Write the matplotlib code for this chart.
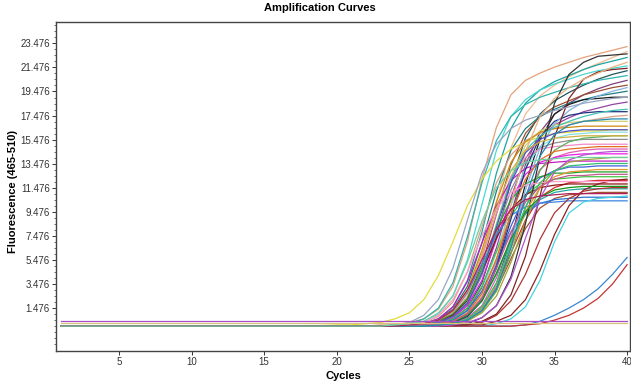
import numpy as np
import matplotlib
matplotlib.use("Agg")
import matplotlib.pyplot as plt
from matplotlib.ticker import FixedLocator

plt.rcParams['font.family'] = ['Liberation Sans Narrow', 'Liberation Sans', 'DejaVu Sans']

cycles = np.arange(1, 41)
baseline = 0.0

# fluorescence, cycles 22..40 (earlier cycles sit on the baseline)
w01 = [0.0,0.1,0.1,0.3,0.6,1.4,3.3,7.0,12.2,16.5,19.2,20.4,21.0,21.5,21.9,22.3,22.6,22.9,23.2]
w02 = [0.0,0.0,0.0,0.1,0.2,0.4,1.0,2.5,5.6,10.3,14.8,17.6,19.1,20.0,20.7,21.3,21.8,22.3,22.8]
w03 = [0.0,0.0,0.0,0.1,0.2,0.6,1.6,3.8,7.8,12.7,16.4,18.5,19.6,20.3,20.8,21.3,21.7,22.0,22.3]
w04 = [0.0,0.0,0.1,0.1,0.4,1.0,2.5,5.5,10.1,14.6,17.4,18.8,19.6,20.1,20.5,20.9,21.2,21.4,21.6]
w05 = [0.0,0.0,0.0,0.0,0.1,0.2,0.6,1.5,3.6,7.4,12.0,15.6,17.6,18.7,19.4,20.0,20.5,20.9,21.2]
w06 = [0.0,0.0,0.1,0.2,0.6,1.5,3.6,7.4,11.9,15.4,17.4,18.4,19.0,19.4,19.8,20.1,20.4,20.6,20.8]
w07 = [0.0,0.0,0.0,0.0,0.1,0.1,0.4,1.0,2.3,5.1,9.3,13.4,16.1,17.6,18.5,19.2,19.7,20.1,20.4]
w08 = [0.0,0.0,0.0,0.1,0.1,0.4,0.9,2.3,5.1,9.3,13.4,16.0,17.4,18.2,18.7,19.2,19.5,19.8,20.0]
w09 = [0.0,0.0,0.0,0.1,0.2,0.6,1.4,3.3,6.9,11.2,14.6,16.4,17.4,18.0,18.5,18.8,19.1,19.3,19.5]
w10 = [0.0,0.0,0.0,0.0,0.0,0.1,0.2,0.6,1.4,3.5,7.2,11.8,15.5,17.6,18.4,18.8,18.9,19.0,19.0]
w11 = [0.0,0.0,0.0,0.0,0.1,0.2,0.5,1.3,3.2,6.5,10.7,13.9,15.7,16.7,17.3,17.8,18.1,18.4,18.6]
# the early yellow well, cycles 18..40
w12 = [0.05,0.05,0.1,0.1,0.2,0.3,0.6,1.1,2.2,4.2,7.0,10.0,12.2,13.7,14.7,15.3,15.7,16.0,16.1,16.2,16.2,16.3,16.3]
w13 = [0.0,0.0,0.0,0.1,0.3,0.8,2.0,4.5,8.3,11.9,14.2,15.4,16.0,16.4,16.7,17.0,17.2,17.4,17.5]
w14 = [0.0,0.0,0.0,0.0,0.1,0.3,0.8,2.0,4.6,8.5,12.4,15.0,16.2,16.7,16.9,17.0,17.0,17.0,17.0]
w15 = [0.0,0.0,0.0,0.1,0.2,0.5,1.3,3.0,6.3,10.3,13.6,15.3,16.1,16.4,16.5,16.6,16.6,16.6,16.6]
w16 = [0.0,0.0,0.0,0.0,0.1,0.2,0.5,1.2,2.9,6.1,10.0,13.2,14.9,15.6,15.9,16.0,16.1,16.1,16.1]
w17 = [0.0,0.0,0.0,0.0,0.1,0.3,0.7,1.8,4.2,7.8,11.3,13.7,14.8,15.2,15.4,15.5,15.5,15.5,15.5]
w18 = [0.0,0.0,0.0,0.1,0.2,0.4,1.1,2.7,5.7,9.4,12.4,14.0,14.7,14.9,15.0,15.1,15.1,15.1,15.1]
w19 = [0.0,0.0,0.0,0.0,0.0,0.1,0.3,0.7,1.7,4.0,7.4,10.7,13.0,14.0,14.4,14.6,14.7,14.7,14.7]
w20 = [0.0,0.0,0.0,0.0,0.1,0.3,0.7,1.7,3.8,7.2,10.5,12.6,13.6,14.0,14.2,14.3,14.3,14.3,14.3]
w21 = [0.0,0.0,0.0,0.1,0.2,0.6,1.6,3.7,6.9,10.0,12.1,13.1,13.5,13.6,13.7,13.7,13.7,13.7,13.7]
w22 = [0.0,0.0,0.0,0.0,0.1,0.1,0.4,1.0,2.4,5.0,8.3,10.9,12.3,12.9,13.2,13.2,13.3,13.3,13.3]
w23 = [0.0,0.0,0.0,0.1,0.1,0.4,1.0,2.3,4.8,8.0,10.5,11.8,12.4,12.7,12.7,12.8,12.8,12.8,12.8]
w24 = [0.0,0.0,0.0,0.0,0.1,0.2,0.6,1.5,3.3,6.2,9.1,10.9,11.8,12.2,12.3,12.4,12.4,12.4,12.4]
w25 = [0.0,0.0,0.0,0.0,0.0,0.1,0.2,0.6,1.4,3.3,6.1,8.8,10.7,11.5,11.9,12.0,12.1,12.1,12.1]
w26 = [0.0,0.0,0.0,0.0,0.1,0.3,0.9,2.1,4.5,7.3,9.7,10.9,11.5,11.7,11.8,11.8,11.8,11.8,11.8]
w27 = [0.0,0.0,0.0,0.0,0.0,0.1,0.3,0.9,2.1,4.3,7.1,9.3,10.5,11.1,11.3,11.4,11.4,11.4,11.4]
w28 = [0.0,0.0,0.0,0.0,0.0,0.1,0.2,0.5,1.3,3.0,5.6,8.1,9.8,10.6,10.9,11.0,11.1,11.1,11.1]
w29 = [0.0,0.0,0.0,0.0,0.1,0.2,0.5,1.3,2.9,5.4,7.8,9.4,10.2,10.5,10.6,10.7,10.7,10.7,10.7]
w30 = [0.0,0.0,0.0,0.1,0.2,0.5,1.2,2.8,5.2,7.6,9.2,9.9,10.2,10.3,10.4,10.4,10.4,10.4,10.4]
w31 = [0.0,0.0,0.0,0.0,0.0,0.0,0.0,0.0,0.0,0.2,0.6,1.6,3.8,7.0,9.4,10.3,10.6,10.7,10.8]
w32 = [0.0,0.0,0.0,0.0,0.0,0.0,0.0,0.1,0.1,0.4,0.9,2.2,4.6,7.6,10.0,11.3,11.8,12.1,12.2]
w33 = [0.0,0.0,0.0,0.0,0.0,0.0,0.0,0.1,0.3,0.9,2.1,4.3,7.2,9.4,10.6,11.2,11.4,11.5,11.5]
w34 = [0.0,0.0,0.0,0.0,0.0,0.0,0.0,0.0,0.0,0.0,0.0,0.1,0.4,0.9,1.5,2.2,3.1,4.3,5.7]
w35 = [0.0,0.0,0.0,0.0,0.0,0.0,0.0,0.0,0.0,0.0,0.0,0.1,0.2,0.5,0.9,1.5,2.3,3.5,5.1]
w36 = [0.0,0.0,0.0,0.0,0.0,0.1,0.2,0.5,1.2,2.9,6.0,9.8,12.9,14.6,15.3,15.6,15.7,15.8,15.8]
w37 = [0.0,0.0,0.0,0.0,0.0,0.1,0.2,0.4,1.1,2.5,5.3,8.7,11.5,12.9,13.6,13.8,13.9,14.0,14.0]
w38 = [0.0,0.0,0.0,0.0,0.0,0.1,0.3,0.8,2.1,4.8,8.9,13.0,15.7,17.0,17.5,17.7,17.8,17.8,17.8]
w39 = [0.0,0.0,0.0,0.0,0.0,0.1,0.2,0.6,1.4,3.4,7.0,11.3,14.8,16.8,17.9,18.6,19.1,19.5,19.8]
w40 = [0.0,0.0,0.0,0.0,0.0,0.0,0.1,0.2,0.7,1.7,4.1,8.5,14.1,18.5,20.9,21.9,22.4,22.5,22.6]
w41 = [0.0,0.0,0.0,0.0,0.0,0.0,0.1,0.1,0.4,1.0,2.6,5.8,10.8,15.7,18.9,20.5,21.1,21.3,21.4]
w42 = [0.0,0.0,0.1,0.3,0.9,2.2,4.8,8.8,12.7,15.1,16.4,17.1,17.5,17.9,18.2,18.5,18.7,18.9,19.0]
w43 = [0.0,0.0,0.0,0.0,0.1,0.3,0.8,2.0,4.5,8.4,12.2,14.6,15.8,16.5,17.0,17.4,17.7,17.9,18.0]
w44 = [0.0,0.0,0.0,0.0,0.0,0.1,0.2,0.6,1.5,3.5,6.5,9.5,11.5,12.4,12.8,12.9,13.0,13.0,13.0]
w45 = [0.0,0.0,0.0,0.1,0.3,0.9,2.2,4.5,7.5,9.8,11.1,11.7,11.9,12.0,12.0,12.0,12.0,12.0,12.0]
w46 = [0.0,0.0,0.0,0.0,0.1,0.1,0.4,1.0,2.5,5.5,10.1,14.5,17.4,18.9,19.8,20.5,21.0,21.5,21.9]
w47 = [0.0,0.0,0.0,0.0,0.0,0.1,0.3,0.9,2.1,4.4,7.2,9.5,10.7,11.3,11.5,11.6,11.6,11.6,11.6]
w48 = [0.0,0.0,0.0,0.0,0.0,0.0,0.1,0.3,0.7,1.7,3.9,7.3,10.6,12.8,13.8,14.2,14.4,14.5,14.5]
w49 = [0.0,0.0,0.0,0.0,0.1,0.2,0.4,1.1,2.7,5.6,9.3,12.2,13.8,14.5,14.7,14.8,14.9,14.9,14.9]
w50 = [0.0,0.0,0.0,0.0,0.1,0.3,0.8,1.9,4.4,8.2,11.9,14.4,15.5,16.0,16.2,16.3,16.3,16.3,16.3]
w51 = [0.0,0.0,0.0,0.0,0.0,0.1,0.2,0.6,1.6,3.6,6.8,9.9,11.9,12.9,13.3,13.4,13.5,13.5,13.5]
w52 = [0.0,0.0,0.0,0.0,0.1,0.1,0.4,1.0,2.3,4.8,7.8,10.3,11.6,12.2,12.5,12.5,12.6,12.6,12.6]
w53 = [0.0,0.0,0.0,0.1,0.2,0.5,1.2,2.9,6.0,9.8,12.9,14.6,15.3,15.6,15.7,15.8,15.8,15.8,15.8]
w54 = [0.0,0.0,0.0,0.0,0.0,0.1,0.2,0.5,1.3,3.1,6.5,10.7,14.1,15.9,16.7,17.0,17.1,17.2,17.2]
w55 = [0.0,0.0,0.0,0.1,0.2,0.5,1.3,3.0,5.5,8.0,9.7,10.5,10.8,10.9,11.0,11.0,11.0,11.0,11.0]
w56 = [0.0,0.0,0.1,0.2,0.4,1.1,2.5,5.3,8.7,11.5,12.9,13.6,13.8,13.9,14.0,14.0,14.0,14.0,14.0]

wells = [w01, w02, w03, w04, w05, w06, w07, w08, w09, w10, w11, w12, w13, w14, w15, w16,
         w17, w18, w19, w20, w21, w22, w23, w24, w25, w26, w27, w28, w29, w30, w31, w32,
         w33, w34, w35, w36, w37, w38, w39, w40, w41, w42, w43, w44, w45, w46, w47, w48,
         w49, w50, w51, w52, w53, w54, w55, w56]
well_colors = ['#e3a27a', '#f0bc96', '#1fa3a0', '#48d8d0', '#24565a', '#2fb5b0', '#7e3f7e', '#9c5030',
               '#1e7f80', '#1a1a1a', '#9444a4', '#e4dc3c', '#d9a184', '#cfcf72', '#cf8a10', '#86e2e0',
               '#8e8e8e', '#f08ac4', '#e060b0', '#e81ee8', '#c21ec2', '#4460dc', '#22a22a', '#44c444',
               '#d42a2a', '#8c1414', '#26a6a2', '#a05232', '#2472d4', '#3a86e0', '#44d2e2', '#8e2222',
               '#b03434', '#3a86d0', '#c43434', '#5cb05c', '#a2a23e', '#223480', '#84b2e2', '#333333',
               '#7e2424', '#98a6c4', '#44c2b2', '#e2962e', '#ff9ccc', '#e8b282', '#149414', '#b254d2',
               '#e07020', '#5050c0', '#30c070', '#c05a90', '#d0b040', '#208ab0', '#b02060', '#70d0a0']

# negative controls that never amplify
flat_levels = [0.45, 0.3]
flat_colors = ['#a84cc8', '#d8c47a']

fig = plt.figure(figsize=(6.31, 3.83), dpi=100)
ax = fig.add_axes([56/631, 32.3/383, 574/631, 328.4/383])

for vals, col in zip(wells, well_colors):
    y = np.concatenate([np.full(40 - len(vals), baseline), vals])
    ax.plot(cycles, y, color=col, lw=0.9)
for lev, col in zip(flat_levels, flat_colors):
    ax.plot(cycles, np.full(len(cycles), lev), color=col, lw=0.9)

ax.set_xlim(0.66, 40.2)
ax.set_ylim(-2.04, 25.22)
ax.set_xticks(np.arange(5, 41, 5))
yt = np.arange(1.476, 24, 2.0)
ax.set_yticks(yt)
ax.set_yticklabels(['%.3f' % v for v in yt])
ax.yaxis.set_minor_locator(FixedLocator(np.arange(-1.524, 25.2, 0.5)))
ax.tick_params(axis='both', which='major', length=3, width=0.7, pad=1.5, labelsize=7, colors='#333333')
ax.tick_params(axis='y', which='minor', length=1.5, width=0.6, colors='#555555')
for s in ax.spines.values():
    s.set_color('#444444')
    s.set_linewidth(1.0)

fig.text(0.507, 0.979, 'Amplification Curves', ha='center', va='center', fontsize=8, fontweight='bold')
fig.text(0.545, 0.018, 'Cycles', ha='center', va='center', fontsize=8, fontweight='bold')
fig.text(0.021, 0.501, 'Fluorescence (465-510)', ha='center', va='center', rotation=90,
         fontsize=8, fontweight='bold')

fig.savefig('out.png', dpi=100)
